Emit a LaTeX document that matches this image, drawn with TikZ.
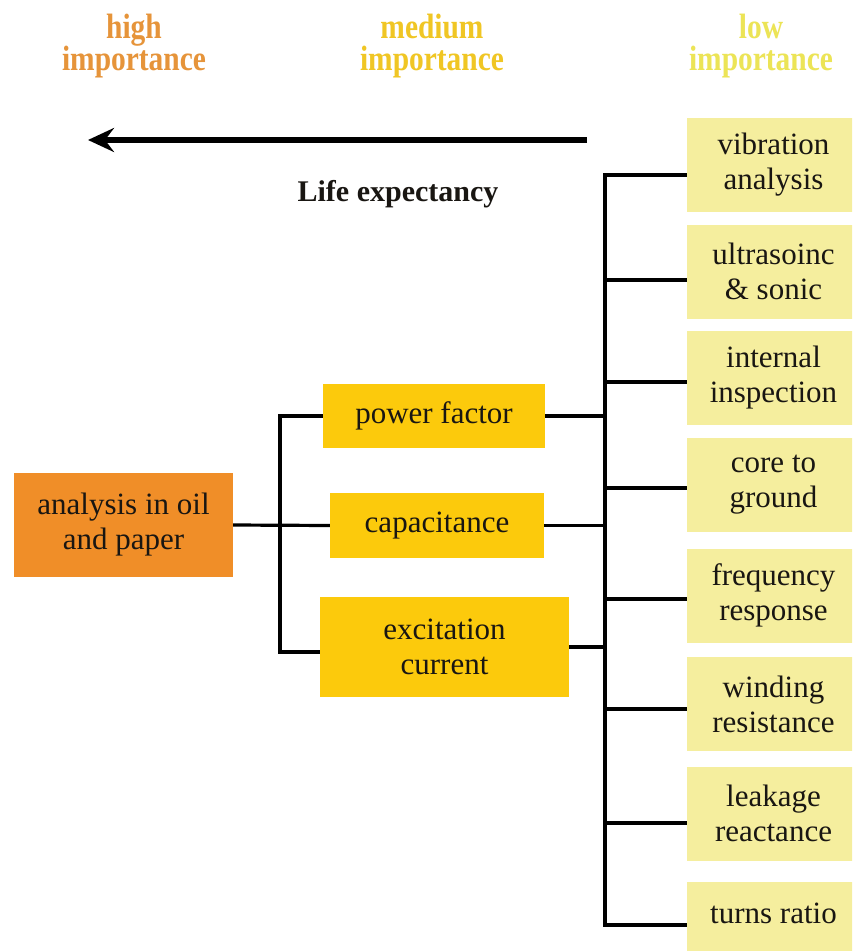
\documentclass[tikz,border=0pt]{standalone}
\usepackage{fontspec}
\newfontfamily\serifface{Liberation Serif}
\usetikzlibrary{arrows.meta}

\definecolor{highc}{RGB}{230,148,58}
\definecolor{medc}{RGB}{240,198,36}
\definecolor{lowc}{RGB}{236,228,86}
\definecolor{orangebox}{RGB}{240,142,40}
\definecolor{goldbox}{RGB}{252,202,12}
\definecolor{palebox}{RGB}{245,238,158}
\definecolor{ink}{RGB}{25,22,18}

\tikzset{
  boxtext/.style={font={\serifface\fontsize{31}{35}\selectfont}, text=ink, align=center, inner sep=0pt},
  highbox/.style={boxtext, fill=orangebox, minimum width=219pt, minimum height=104pt},
  medbox/.style={boxtext, fill=goldbox},
  lowbox/.style={boxtext, fill=palebox, minimum width=173pt, minimum height=94pt},
  heading/.style={font={\serifface\fontsize{32}{30}\selectfont\bfseries}, inner sep=0pt},
  wire/.style={line width=3.2pt, draw=black, line join=miter},
}

\begin{document}
\begin{tikzpicture}[x=1pt, y=-1pt]
  \clip (0,0) rectangle (852,951);
  \fill[white] (0,0) rectangle (852,951);

  % column headings, one node per line
  \node[heading, text=highc, anchor=base] (hHigh1) at (134,38) {\scalebox{0.92}[1.1]{high}};
  \node[heading, text=highc, anchor=base] (hHigh2) at (134,70) {\scalebox{0.92}[1.1]{importance}};
  \node[heading, text=medc,  anchor=base] (hMed1)  at (432,38) {\scalebox{0.92}[1.1]{medium}};
  \node[heading, text=medc,  anchor=base] (hMed2)  at (432,70) {\scalebox{0.92}[1.1]{importance}};
  \node[heading, text=lowc,  anchor=base] (hLow1)  at (761,38) {\scalebox{0.92}[1.1]{low}};
  \node[heading, text=lowc,  anchor=base] (hLow2)  at (761,70) {\scalebox{0.92}[1.1]{importance}};

  % life expectancy arrow
  \coordinate (arrS) at (587,140);
  \coordinate (arrE) at (88,140);
  \draw[line width=6pt, -{Stealth[length=26pt, width=24pt, inset=9pt]}] (arrS) -- (arrE);
  \node[font={\serifface\fontsize{30}{34}\selectfont\bfseries}, text=ink, inner sep=0pt] (life) at (398,194) {Life expectancy};

  % high importance
  \node[highbox] (an) at (123.5,525) {analysis in oil\\and paper};

  % medium importance
  \node[medbox, minimum width=222pt, minimum height=64pt] (pf)  at (434,416)   {power factor};
  \node[medbox, minimum width=214pt, minimum height=65pt] (cap) at (437,525.5) {capacitance};
  \node[medbox, minimum width=249pt, minimum height=100pt] (ex) at (444.5,647) {excitation\\current};

  % low importance
  \node[lowbox] (v1) at (773.5,165)   {vibration\\analysis};
  \node[lowbox] (v2) at (773.5,271.5) {ultrasoinc\\\& sonic};
  \node[lowbox] (v3) at (773.5,377.5) {internal\\inspection};
  \node[lowbox] (v4) at (773.5,485)   {core to\\ground};
  \node[lowbox] (v5) at (773.5,595.5) {frequency\\response};
  \node[lowbox] (v6) at (773.5,704)   {winding\\resistance};
  \node[lowbox] (v7) at (773.5,813.5) {leakage\\reactance};
  \node[lowbox, anchor=north] (v8) at (773.5,882) {};
  \node[boxtext] (v8t) at (773.5,913) {turns ratio};

  % left bus
  \coordinate (lbt) at (280,416);
  \coordinate (lbb) at (280,652);
  \draw[wire] (pf.west) -- (lbt) -- (lbb) -- (lbb -| ex.west);
  \draw[wire] (an.east) -- (cap.west);

  % right bus
  \coordinate (r1) at (605,175);
  \coordinate (r2) at (605,280);
  \coordinate (r3) at (605,382);
  \coordinate (r4) at (605,488);
  \coordinate (r5) at (605,599);
  \coordinate (r6) at (605,709);
  \coordinate (r7) at (605,823);
  \coordinate (r8) at (605,925);
  \draw[wire] (r1 -| v1.west) -- (r1) -- (r8) -- (r8 -| v8.west);
  \foreach \r/\v in {r2/v2, r3/v3, r4/v4, r5/v5, r6/v6, r7/v7}
    \draw[wire] (\r) -- (\r -| \v.west);
  \draw[wire] (pf.east)  -- (pf.east -| r1);
  \draw[wire] (cap.east) -- (cap.east -| r1);
  \draw[wire] (ex.east)  -- (ex.east -| r1);
\end{tikzpicture}
\end{document}
